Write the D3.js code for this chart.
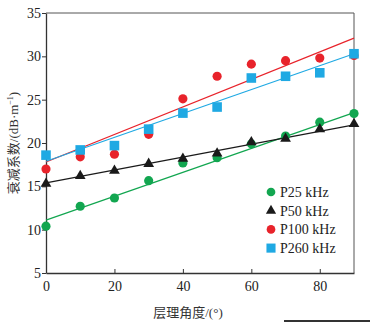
<!DOCTYPE html>
<html>
<head>
<meta charset="utf-8">
<script src="https://cdn.jsdelivr.net/npm/d3@7"></script>
<style>
body { margin: 0; background: #fff; }
text { font-family: "Liberation Serif", "Noto Sans CJK SC", serif; }
</style>
</head>
<body>
<script>
// layer angle (degrees)
var angles = [0, 10, 20, 30, 40, 50, 60, 70, 80, 90];
// attenuation coefficient per frequency
var p25 = [10.4, 12.7, 13.65, 15.65, 17.7, 18.3, 19.9, 20.8, 22.4, 23.4];
var p50 = [15.3, 16.2, 16.8, 17.6, 18.2, 18.8, 20.1, 20.5, 21.6, 22.2];
var p100 = [17.0, 18.4, 18.7, 21.0, 25.1, 27.7, 29.1, 29.5, 29.8, 30.1];
var p260 = [18.6, 19.2, 19.7, 21.6, 23.45, 24.15, 27.5, 27.7, 28.1, 30.3];
// fitted lines, value at 0 and at 90 degrees
var fit25 = [11.1, 23.5];
var fit50 = [15.4, 22.1];
var fit100 = [17.8, 32.1];
var fit260 = [17.9, 30.3];
var seriesNames = ["P25 kHz", "P50 kHz", "P100 kHz", "P260 kHz"];
var xTicks = [0, 20, 40, 60, 80];
var yTicks = [5, 10, 15, 20, 25, 30, 35];

var width = 377, height = 327;
var margin = {left: 46, top: 13, right: 23, bottom: 54};
var w = width - margin.left - margin.right;
var h = height - margin.top - margin.bottom;

var series = [
    {name: seriesNames[0], vals: p25, fit: fit25, color: "#12a650", sym: d3.symbolCircle, size: 66},
    {name: seriesNames[1], vals: p50, fit: fit50, color: "#1a1a1a", sym: d3.symbolTriangle, size: 50},
    {name: seriesNames[2], vals: p100, fit: fit100, color: "#e8232b", sym: d3.symbolCircle, size: 66},
    {name: seriesNames[3], vals: p260, fit: fit260, color: "#1fa9e3", sym: d3.symbolSquare, size: 92}
];

var svg = d3.select("body").append("svg")
    .attr("width", width)
    .attr("height", height);

var g = svg.append("g")
    .attr("transform", "translate(" + margin.left + "," + margin.top + ")");

var x = d3.scaleLinear().domain([0, 90]).range([0, w]);
var y = d3.scaleLinear().domain([5, 35]).range([h, 0]);

// frame top + right
g.append("line").attr("x1", 0).attr("x2", w).attr("y1", 0).attr("y2", 0)
    .attr("stroke", "#555").attr("stroke-width", 1);
g.append("line").attr("x1", w).attr("x2", w).attr("y1", 0).attr("y2", h)
    .attr("stroke", "#555").attr("stroke-width", 1);

var xAxis = g.append("g")
    .attr("transform", "translate(0," + h + ")")
    .call(d3.axisBottom(x).tickValues(xTicks).tickSizeInner(-4).tickSizeOuter(0).tickPadding(8));
var yAxis = g.append("g")
    .call(d3.axisLeft(y).tickValues(yTicks).tickSizeInner(4).tickSizeOuter(0).tickPadding(1));

[xAxis, yAxis].forEach(function(a) {
    a.select(".domain").attr("stroke", "#333").attr("stroke-width", 1.3);
    a.selectAll(".tick line").attr("stroke", "#333");
    a.selectAll(".tick text").attr("font-size", "14px").attr("fill", "#222")
        .style("font-family", "'Liberation Serif', serif");
});

// fit lines
series.forEach(function(s) {
    g.append("line")
        .attr("x1", x(0)).attr("y1", y(s.fit[0]))
        .attr("x2", x(90)).attr("y2", y(s.fit[1]))
        .attr("stroke", s.color)
        .attr("stroke-width", 1.2);
});

// markers
series.forEach(function(s) {
    g.selectAll(null).data(s.vals).enter()
        .append("path")
        .attr("d", d3.symbol().type(s.sym).size(s.size))
        .attr("transform", function(d, i) { return "translate(" + x(angles[i]) + "," + y(d) + ")"; })
        .attr("fill", s.color);
});

// legend
var legend = g.selectAll(".leg").data(series).enter()
    .append("g")
    .attr("class", "leg")
    .attr("transform", function(d, i) { return "translate(" + (271 - margin.left) + "," + (192 + i * 18.7 - margin.top) + ")"; });
legend.append("path")
    .attr("d", function(d) { return d3.symbol().type(d.sym).size(d.size * 0.9)(); })
    .attr("fill", function(d) { return d.color; });
legend.append("text")
    .attr("x", 9)
    .attr("dy", "0.35em")
    .attr("font-size", "14px")
    .attr("fill", "#222")
    .text(function(d) { return d.name; });

// axis titles
svg.append("text")
    .attr("x", 188)
    .attr("y", 317)
    .attr("text-anchor", "middle")
    .attr("font-size", "13px")
    .attr("fill", "#333")
    .text("层理角度/(°)");

var yl = svg.append("text")
    .attr("transform", "translate(18," + (margin.top + h / 2) + ") rotate(-90)")
    .attr("text-anchor", "middle")
    .attr("font-size", "13px")
    .attr("fill", "#333");
yl.append("tspan").text("衰减系数/(dB·m");
yl.append("tspan").attr("font-size", "8px").attr("dy", "-5").text("−1");
yl.append("tspan").attr("dy", "5").text(")");

// rule at bottom right
svg.append("line")
    .attr("x1", 284).attr("x2", 370).attr("y1", 321).attr("y2", 321)
    .attr("stroke", "#333").attr("stroke-width", 2);
</script>
</body>
</html>
